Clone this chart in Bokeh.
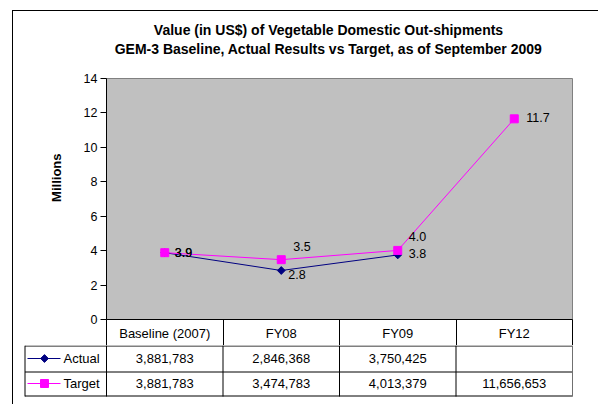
import numpy as np
from bokeh.plotting import figure
from bokeh.models import Range1d, FixedTicker, Title, ColumnDataSource
from bokeh.layouts import column
from bokeh.embed import file_html
from bokeh.resources import INLINE
from bokeh.core.properties import value

# ---------------- data ----------------
title_lines = ["Value (in US$) of Vegetable Domestic Out-shipments",
               "GEM-3 Baseline, Actual Results vs Target, as of September 2009"]
categories = ["Baseline (2007)", "FY08", "FY09", "FY12"]
series_names = ["Actual", "Target"]
actual_values = [3881783, 2846368, 3750425, None]
target_values = [3881783, 3474783, 4013379, 11656653]
y_ticks = [0, 2, 4, 6, 8, 10, 12, 14]
y_axis_title = "Millions"

# ---------------- styles ----------------
FONT = "Liberation Sans"
ACTUAL_COLOR = "#000080"
TARGET_COLOR = "#FF00FF"
PLOT_BG = "#C0C0C0"
# data-label offsets (screen px) per point
actual_label_offsets = [(10, 0), (7, 4), (11, -1)]
target_label_offsets = [(10, 0), (12, -13), (11, -14), (12, -1)]

# layout in page pixels (page has no body margin in Bokeh's template)
ORG_X, ORG_Y = 13, 11
TOTAL_W = 585
FRAME_L, FRAME_R, FRAME_T, FRAME_B = 106, 572, 78, 319
TITLE_H = 58
TABLE_TOP, TABLE_BOTTOM, PAGE_BOTTOM = 345, 396, 404
LEGEND_L = 24.5
ROW_Y = [358, 383]
ROW_LINES = [345.5, 371.5, 395.5]
COL_W = (FRAME_R - FRAME_L) / len(categories)

x = [int(i) for i in np.arange(len(categories))]


def millions(vals):
    return np.array([np.nan if v is None else v / 1e6 for v in vals], dtype=float)


actual_m = millions(actual_values)
target_m = millions(target_values)

# ---------------- title figure ----------------
p0 = figure(width=TOTAL_W, height=TITLE_H,
            x_range=Range1d(ORG_X, ORG_X + TOTAL_W),
            y_range=Range1d(ORG_Y + TITLE_H, ORG_Y),
            min_border=0, toolbar_location=None, output_backend="svg",
            x_axis_location=None, y_axis_location=None,
            outline_line_color=None, background_fill_color=None,
            border_fill_color=None, frame_align=False)
p0.grid.visible = False
p0.text(x=[328, 328], y=[29, 48], text=title_lines,
        text_font=value(FONT), text_font_size="14px", text_font_style="bold",
        text_align="center", text_baseline="middle", text_color="black")

# ---------------- chart figure ----------------
p1_top = ORG_Y + TITLE_H
p1 = figure(width=TOTAL_W, height=TABLE_TOP - p1_top,
            x_range=Range1d(-0.5, len(categories) - 0.5),
            y_range=Range1d(y_ticks[0], y_ticks[-1]),
            min_border_left=FRAME_L - ORG_X,
            min_border_right=ORG_X + TOTAL_W - FRAME_R,
            min_border_top=FRAME_T - p1_top,
            min_border_bottom=TABLE_TOP - FRAME_B,
            toolbar_location=None, output_backend="svg",
            background_fill_color=PLOT_BG, outline_line_color="#808080",
            border_fill_color=None, frame_align=False)
p1.xgrid.visible = False
p1.ygrid.visible = False

xa = p1.xaxis[0]
xa.ticker = FixedTicker(ticks=x, minor_ticks=[i - 0.5 for i in range(len(categories) + 1)])
xa.major_label_overrides = {i: c for i, c in zip(x, categories)}
xa.major_tick_out = 0
xa.major_tick_in = 0
xa.minor_tick_out = TABLE_TOP - FRAME_B
xa.minor_tick_in = 0
xa.minor_tick_line_color = "black"
xa.axis_line_color = "black"
xa.major_label_standoff = 6 - (TABLE_TOP - FRAME_B)
xa.major_label_text_font = FONT
xa.major_label_text_font_size = "13px"
xa.major_label_text_color = "black"

ya = p1.yaxis[0]
ya.ticker = FixedTicker(ticks=y_ticks)
ya.major_tick_out = 6
ya.major_tick_in = 0
ya.minor_tick_line_color = None
ya.axis_line_color = "black"
ya.major_tick_line_color = "black"
ya.major_label_standoff = 3
ya.major_label_text_font = FONT
ya.major_label_text_font_size = "12.5px"
ya.major_label_text_color = "black"

p1.add_layout(Title(text=y_axis_title, align="right", offset=75, standoff=34,
                    text_font=FONT, text_font_size="13px", text_font_style="bold",
                    text_color="black"), "left")

# series
p1.line(x, actual_m, line_color=ACTUAL_COLOR, line_width=1)
p1.scatter(x, actual_m, marker="square", angle=np.pi / 4, size=5.5,
           fill_color=ACTUAL_COLOR, line_color=ACTUAL_COLOR)
p1.line(x, target_m, line_color=TARGET_COLOR, line_width=1)
p1.scatter(x, target_m, marker="square", size=8,
           fill_color=TARGET_COLOR, line_color=TARGET_COLOR)

# data labels
a_idx = [i for i, v in enumerate(actual_values) if v is not None]
a_src = ColumnDataSource(dict(
    x=[x[i] for i in a_idx], y=[actual_m[i] for i in a_idx],
    t=[f"{actual_m[i]:.1f}" for i in a_idx],
    xo=[actual_label_offsets[k][0] for k in range(len(a_idx))],
    yo=[actual_label_offsets[k][1] for k in range(len(a_idx))]))
t_src = ColumnDataSource(dict(
    x=x, y=list(target_m), t=[f"{v:.1f}" for v in target_m],
    xo=[o[0] for o in target_label_offsets], yo=[o[1] for o in target_label_offsets]))
for src in (a_src, t_src):
    p1.text(x="x", y="y", text="t", x_offset="xo", y_offset="yo", source=src,
            text_font=value(FONT), text_font_size="12.5px", text_color="black",
            text_align="left", text_baseline="middle")

# ---------------- data table figure ----------------
def px(page_x):
    return -0.5 + (page_x - FRAME_L) / COL_W


p2 = figure(width=TOTAL_W, height=PAGE_BOTTOM - TABLE_TOP,
            x_range=Range1d(px(ORG_X), px(ORG_X + TOTAL_W)),
            y_range=Range1d(PAGE_BOTTOM, TABLE_TOP),
            min_border=0, toolbar_location=None, output_backend="svg",
            x_axis_location=None, y_axis_location=None,
            outline_line_color=None, background_fill_color=None,
            border_fill_color=None, frame_align=False)
p2.grid.visible = False

x_left = px(LEGEND_L)
x_right = len(categories) - 0.5
# horizontal rules
p2.segment(x0=[x_left] * 3, y0=ROW_LINES, x1=[x_right] * 3, y1=ROW_LINES,
           line_color="black", line_width=1)
# vertical rules
vx = [x_left] + [i - 0.5 for i in range(len(categories))]
p2.segment(x0=vx, y0=[TABLE_TOP] * len(vx), x1=vx, y1=[TABLE_BOTTOM] * len(vx),
           line_color="black", line_width=1)
p2.segment(x0=[x_right], y0=[TABLE_TOP], x1=[x_right], y1=[TABLE_BOTTOM],
           line_color="#707070", line_width=1)

# numbers
for row, vals in enumerate([actual_values, target_values]):
    p2.text(x=x, y=[ROW_Y[row]] * len(x),
            text=["" if v is None else f"{v:,}" for v in vals],
            text_font=value(FONT), text_font_size="13px", text_color="black",
            text_align="center", text_baseline="middle")

# legend keys
colors = [ACTUAL_COLOR, TARGET_COLOR]
for row, name in enumerate(series_names):
    yy = ROW_Y[row]
    p2.line([px(27), px(60)], [yy, yy], line_color=colors[row], line_width=1)
    if row == 0:
        p2.scatter([px(44)], [yy], marker="square", angle=np.pi / 4, size=5.5,
                   fill_color=colors[row], line_color=colors[row])
    else:
        p2.scatter([px(44)], [yy], marker="square", size=8,
                   fill_color=colors[row], line_color=colors[row])
    p2.text(x=[px(63)], y=[yy], text=[name], text_font=value(FONT),
            text_font_size="13px", text_color="black",
            text_align="left", text_baseline="middle")

layout = column(p0, p1, p2, spacing=0, margin=(ORG_Y - 1, 0, 0, ORG_X - 1),
                styles={"border-left": "1px solid black", "border-top": "1px solid black"})

open("out.html", "w").write(file_html(layout, INLINE))
